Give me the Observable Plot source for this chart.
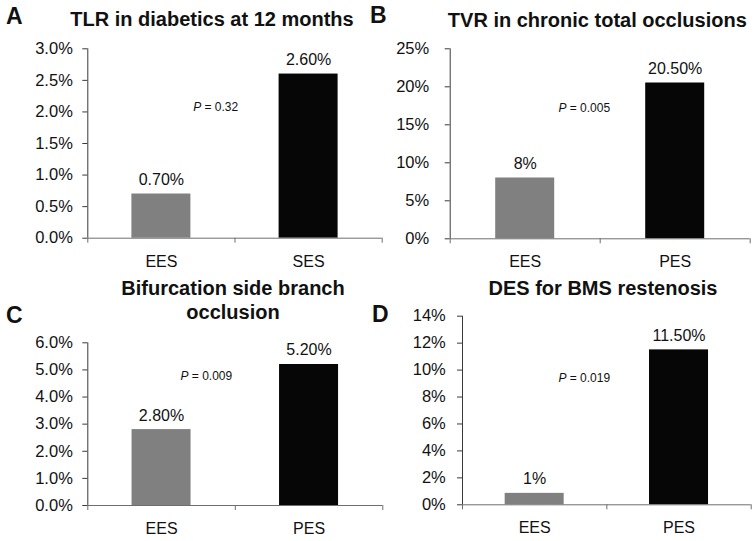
<!DOCTYPE html>
<html><head><meta charset="utf-8">
<script src="https://cdn.jsdelivr.net/npm/d3@7"></script>
<script src="https://cdn.jsdelivr.net/npm/@observablehq/plot@0.6"></script>
<style>
html,body{margin:0;padding:0;background:#fff;overflow:hidden}
#chart{position:relative;width:755px;height:541px;font-family:"Liberation Sans",Arial,Helvetica,sans-serif;color:#111;background:#fff}
#chart svg{position:absolute;left:0;top:0}
.title{position:absolute;font-weight:bold;font-size:20px;line-height:24px;white-space:nowrap;transform:translateX(-50%);text-align:center}
.letter{position:absolute;font-weight:bold;font-size:23px;line-height:23px}
</style></head><body><div id="chart"></div>
<script>
// ---- data ----
const panelLetters = ["A", "B", "C", "D"];
const panelTitles = [
  ["TLR in diabetics at 12 months"],
  ["TVR in chronic total occlusions"],
  ["Bifurcation side branch", "occlusion"],
  ["DES for BMS restenosis"]
];
const categories = [["EES", "SES"], ["EES", "PES"], ["EES", "PES"], ["EES", "PES"]];
const values = [[0.7, 2.6], [8, 20.5], [2.8, 5.2], [0.85, 11.5]];
const valueLabels = [["0.70%", "2.60%"], ["8%", "20.50%"], ["2.80%", "5.20%"], ["1%", "11.50%"]];
const pValues = ["0.32", "0.005", "0.009", "0.019"];
const yMax = [3, 25, 6, 14];
const yStep = [0.5, 5, 1, 2];
const yDecimals = [1, 0, 1, 0];

// ---- styles / layout ----
const barColors = ["#808080", "#060606"];
const layout = [
  {left: 87.3, right: 381.7, top: 48.3, bottom: 237.7, pad: 10, pX: 0.77, pY: 2.02, titleX: 212, titleBase: 26, letterX: 6, letterBase: 24},
  {left: 449.7, right: 749.7, top: 48.3, bottom: 238.3, pad: 16, pX: 0.775, pY: 16.7, titleX: 597.3, titleBase: 26.5, letterX: 370, letterBase: 23.5},
  {left: 87.3, right: 382.3, top: 342.3, bottom: 505, pad: 10, pX: 0.683, pY: 4.61, titleX: 233, titleBase: 295, letterX: 6, letterBase: 323},
  {left: 462, right: 750.7, top: 315.7, bottom: 504.3, pad: 11.7, pX: 0.72, pY: 9.1, titleX: 603, titleBase: 295, letterX: 372, letterBase: 322.5}
];
const W = 755, H = 541;
const FONT = '"Liberation Sans", Arial, Helvetica, sans-serif';
const TEXT = "#111";

const chart = document.getElementById("chart");

panelLetters.forEach((letter, k) => {
  const L = layout[k];
  const rows = categories[k].map((c, i) => ({cat: c, i, value: values[k][i], label: valueLabels[k][i], color: barColors[i]}));
  const bw = (L.right - L.left) / 2;
  const inset = (bw - 59) / 2;
  const ticks = d3.range(0, yMax[k] + yStep[k] / 2, yStep[k]);
  const plot = Plot.plot({
    width: W, height: H,
    marginLeft: L.left, marginRight: W - L.right, marginTop: L.top, marginBottom: H - L.bottom,
    style: {background: "transparent", fontFamily: FONT, fontSize: "16px", color: TEXT, overflow: "visible"},
    x: {type: "linear", domain: [0, 2], label: null},
    y: {domain: [0, yMax[k]], label: null},
    marks: [
      Plot.rect(rows, {x1: "i", x2: d => d.i + 1, y1: d => 0, y2: "value", fill: "color", insetLeft: inset, insetRight: inset}),
      Plot.ruleY([0], {stroke: "#6e6e6e"}),
      Plot.ruleX([0], {stroke: "#3a3a3a"}),
      Plot.axisY({ticks, tickFormat: d => d.toFixed(yDecimals[k]) + "%", tickSize: 5, tickPadding: L.pad, fontSize: 16.5, stroke: "#3a3a3a", fill: TEXT, label: null}),
      Plot.axisX({ticks: [0, 1, 2], tickFormat: () => "", tickSize: 5, stroke: "#6e6e6e", label: null}),
      Plot.axisX({ticks: rows.map(d => d.i + 0.5), tickFormat: v => categories[k][Math.floor(v)], tickSize: 0, tickPadding: 17, fontSize: 16, fill: TEXT, label: null}),
      Plot.text(rows, {x: d => d.i + 0.5, y: "value", text: "label", lineAnchor: "bottom", dy: -9, fontSize: 16, fill: TEXT}),
      Plot.text(["P"], {x: () => L.pX, y: () => L.pY, text: d => d, textAnchor: "end", lineAnchor: "bottom", fontStyle: "italic", fontSize: 12, fill: TEXT}),
      Plot.text(["= " + pValues[k]], {x: () => L.pX, y: () => L.pY, text: d => d, textAnchor: "start", lineAnchor: "bottom", dx: 3.3, fontSize: 12, fill: TEXT})
    ]
  });
  chart.appendChild(plot);

  const t = document.createElement("div");
  t.className = "title";
  t.style.left = L.titleX + "px";
  t.style.top = (L.titleBase - 18.9) + "px";
  t.innerHTML = panelTitles[k].join("<br>");
  chart.appendChild(t);

  const l = document.createElement("div");
  l.className = "letter";
  l.style.left = L.letterX + "px";
  l.style.top = (L.letterBase - 19.5) + "px";
  l.textContent = letter;
  chart.appendChild(l);
});
</script>
</body></html>
